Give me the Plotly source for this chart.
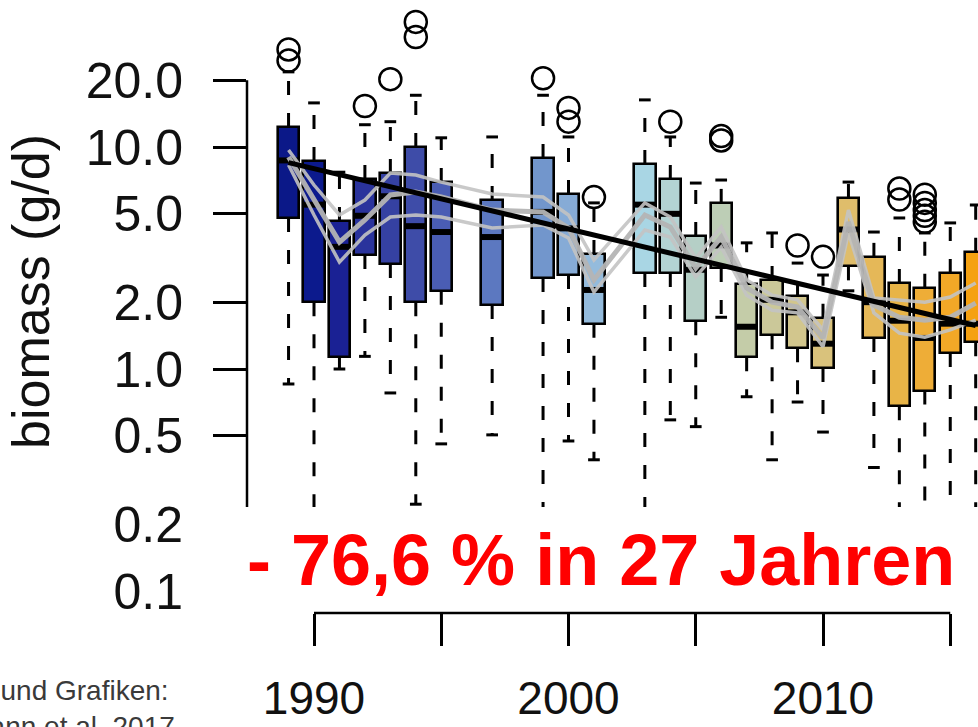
import plotly.graph_objects as go

# ---------------- data ----------------
years = [1989, 1990, 1991, 1992, 1993, 1994, 1995, 1997, 1999, 2000, 2001, 2003, 2004,
         2005, 2006, 2007, 2008, 2009, 2010, 2011, 2012, 2013, 2014, 2015, 2016]
q1 = [4.79, 2.00, 1.13, 3.26, 2.97, 2.00, 2.25, 1.94, 2.57, 2.65, 1.60, 2.71, 2.71,
      1.64, 2.85, 1.13, 1.42, 1.24, 1.01, 2.90, 1.38, 0.68, 0.80, 1.18, 1.32]
median = [8.7, 5.5, 3.55, 4.9, 6.0, 4.4, 4.14, 3.93, 5.1, 4.3, 2.27, 5.5, 5.0,
          2.8, 3.6, 1.55, 2.05, 1.8, 1.3, 4.25, 2.0, 1.65, 1.38, 1.6, 1.6]
q3 = [12.3, 8.65, 4.64, 7.17, 7.64, 10.0, 6.95, 5.77, 8.92, 6.14, 3.30, 8.39, 7.17,
      3.97, 5.60, 2.41, 2.52, 2.13, 1.70, 5.89, 3.20, 2.44, 2.32, 2.71, 3.37]
whisker_hi = [21.8, 15.8, 7.7, 12.6, 13.0, 17.1, 11.0, 11.1, 17.1, 11.1, 5.6, 16.3, 11.1,
              6.88, 7.1, 3.7, 4.1, 3.0, 2.65, 6.95, 4.14, 4.79, 4.1, 4.55, 5.48]
whisker_lo = [0.856, 0.18, 1.0, 1.14, 0.78, 0.246, 0.46, 0.505, 0.19, 0.474, 0.39, 0.2, 0.59,
              0.55, 1.71, 0.75, 0.39, 0.71, 0.52, 2.25, 0.36, 0.2, 0.2, 0.2, 0.2]

outlier_years = [1989, 1989, 1992, 1993, 1994, 1994, 1999, 2000, 2000, 2001, 2004,
                 2006, 2006, 2009, 2010, 2013, 2013, 2014, 2014, 2014, 2014, 2014]
outlier_values = [27.5, 24.5, 15.3, 20.2, 36.6, 31.3, 20.4, 15.0, 13.0, 5.95, 13.0,
                  11.2, 10.7, 3.6, 3.2, 6.5, 5.8, 6.1, 5.6, 5.2, 4.9, 4.6]

fit_upper = [9.69, 6.74, 4.94, 5.77, 7.64, 7.48, 6.95, 6.14, 5.95, 4.94, 3.10, 5.60, 4.84,
             3.16, 4.36, 2.52, 2.15, 2.05, 1.50, 5.20, 2.09, 2.05, 2.00, 2.11, 2.44]
fit_mid = [9.02, 5.77, 3.73, 4.69, 6.08, 6.27, 5.95, 5.20, 5.10, 4.32, 2.52, 4.94, 4.36,
           2.85, 3.93, 2.32, 2.00, 1.90, 1.38, 4.59, 1.94, 1.71, 1.66, 1.71, 1.98]
fit_lower = [8.29, 4.94, 3.03, 4.01, 4.84, 4.94, 4.84, 4.32, 4.45, 3.89, 2.22, 4.23, 3.93,
             2.60, 3.54, 2.15, 1.84, 1.79, 1.26, 4.10, 1.79, 1.45, 1.39, 1.50, 1.66]

trend_years = [1989, 2016]
trend_values = [8.5, 1.57]

y_tick_values = [0.1, 0.2, 0.5, 1, 2, 5, 10, 20]
y_tick_labels = ["0.1", "0.2", "0.5", "1.0", "2.0", "5.0", "10.0", "20.0"]
x_tick_values = [1990, 1995, 2000, 2005, 2010, 2015]
x_tick_labels = ["1990", "", "2000", "", "2010", ""]

headline = "- 76,6 % in 27 Jahren"
source_text = "Daten und Grafiken:<br>Hallmann et al. 2017"
y_title = "biomass (g/d)"

box_colors = ["#0b1888", "#0c1a8d", "#1a2194", "#2a339c", "#3541a2", "#3e4ca8", "#4a5db4",
              "#5c78c0", "#7296cc", "#86abd6", "#94bbdc", "#a9d6e4", "#b3d3d3", "#b5cfc6",
              "#bdceb6", "#c4cca8", "#cbc899", "#d2c68d", "#d9c27c", "#dfbd6b", "#e5b858",
              "#e8b447", "#eead37", "#f2a827", "#f5a111"]

# ---------------- geometry ----------------
W, H = 978, 727
ML, MB = 247, 114
PW, PH = W - ML, H - MB
PX_PER_YEAR = 25.45
X_1990 = 314
PX_PER_DECADE = 222
Y_ONE = 369

x_range = [1990 - (X_1990 - ML) / PX_PER_YEAR, 1990 + (W - X_1990) / PX_PER_YEAR]
y_range = [(Y_ONE - PH) / PX_PER_DECADE, Y_ONE / PX_PER_DECADE]


def px_x(p):
    return (p - ML) / PW


def px_y(p):
    return (PH - p) / PH


BOX_W = 0.84
CAP_HALF = 0.23
FONT = "Liberation Sans, Arial, Helvetica, sans-serif"

fig = go.Figure()

# whiskers (dashed)
wx, wy = [], []
for yr, a, b, lo, hi in zip(years, q1, q3, whisker_lo, whisker_hi):
    wx += [yr, yr, None, yr, yr, None]
    wy += [b, hi, None, a, lo, None]
fig.add_trace(go.Scatter(x=wx, y=wy, mode="lines",
                         line=dict(color="black", width=3, dash="14px,18px"),
                         hoverinfo="skip"))
# caps
cx, cy = [], []
for yr, lo, hi in zip(years, whisker_lo, whisker_hi):
    cx += [yr - CAP_HALF, yr + CAP_HALF, None, yr - CAP_HALF, yr + CAP_HALF, None]
    cy += [hi, hi, None, lo, lo, None]
fig.add_trace(go.Scatter(x=cx, y=cy, mode="lines", line=dict(color="black", width=3),
                         hoverinfo="skip"))

# boxes
fig.add_trace(go.Bar(x=years, y=[b - a for a, b in zip(q1, q3)], base=q1, width=BOX_W,
                     marker=dict(color=box_colors, line=dict(color="black", width=2.6)),
                     hoverinfo="skip"))

# medians
mx, my = [], []
for yr, m in zip(years, median):
    mx += [yr - BOX_W / 2, yr + BOX_W / 2, None]
    my += [m, m, None]
fig.add_trace(go.Scatter(x=mx, y=my, mode="lines", line=dict(color="black", width=6),
                         hoverinfo="skip"))

# outliers
fig.add_trace(go.Scatter(x=outlier_years, y=outlier_values, mode="markers",
                         marker=dict(symbol="circle-open", size=22, color="black",
                                     line=dict(width=2.5)),
                         hoverinfo="skip"))

# model fit lines (grey)
for vals, col, wd in [(fit_upper, "rgba(195,195,195,0.9)", 3.5),
                      (fit_lower, "rgba(195,195,195,0.9)", 3.5),
                      (fit_mid, "rgba(180,180,180,0.95)", 5)]:
    fig.add_trace(go.Scatter(x=years, y=vals, mode="lines",
                             line=dict(color=col, width=wd), hoverinfo="skip"))

# trend line
fig.add_trace(go.Scatter(x=trend_years, y=trend_values, mode="lines",
                         line=dict(color="black", width=5), hoverinfo="skip"))

fig.update_layout(
    width=W, height=H,
    margin=dict(l=ML, r=0, t=0, b=MB, autoexpand=False),
    paper_bgcolor="white", plot_bgcolor="white",
    showlegend=False, hovermode=False, bargap=0,
    xaxis=dict(range=x_range, showgrid=False, zeroline=False, showline=False,
               automargin=False,
               tickmode="array", tickvals=x_tick_values, ticktext=x_tick_labels,
               ticks="outside", ticklen=32, tickwidth=2.5, tickcolor="black",
               tickfont=dict(family=FONT, size=46, color="#111111"),
               ticklabelstandoff=13),
    yaxis=dict(type="log", range=y_range, showgrid=False, zeroline=False, showline=False,
               automargin=False,
               tickmode="array", tickvals=y_tick_values, ticktext=y_tick_labels,
               ticks="outside", ticklen=33, tickwidth=2.5, tickcolor="black",
               tickfont=dict(family=FONT, size=50, color="#111111"),
               ticklabelstandoff=20),
    shapes=[
        # R-style axis lines spanning first to last tick
        dict(type="line", xref="paper", yref="y", x0=0, x1=0,
             y0=y_tick_values[0], y1=y_tick_values[-1], line=dict(color="black", width=2.5)),
        dict(type="line", xref="x", yref="paper", x0=x_tick_values[0], x1=x_tick_values[-1],
             y0=0, y1=0, line=dict(color="black", width=2.5)),
        # white panel behind the headline
        dict(type="rect", xref="paper", yref="paper", layer="above",
             x0=px_x(195), x1=1.02, y0=px_y(611), y1=px_y(507),
             fillcolor="white", line=dict(width=0)),
    ],
    annotations=[
        dict(text=headline, xref="paper", yref="paper", x=px_x(601), y=px_y(560),
             xanchor="center", yanchor="middle", showarrow=False,
             font=dict(family=FONT, size=72, color="#ff0000", weight="bold")),
        dict(text=y_title, xref="paper", yref="paper", x=px_x(31), y=px_y(292),
             xanchor="center", yanchor="middle", showarrow=False, textangle=-90,
             font=dict(family=FONT, size=52, color="#111111")),
        dict(text=source_text, xref="paper", yref="paper", x=px_x(-84), y=px_y(673),
             xanchor="left", yanchor="top", align="left", showarrow=False,
             font=dict(family=FONT, size=28, color="#3a3a3a")),
    ],
)

fig.write_html("out.html", config={"displayModeBar": False},
               post_script="document.body.style.margin='0px';")
